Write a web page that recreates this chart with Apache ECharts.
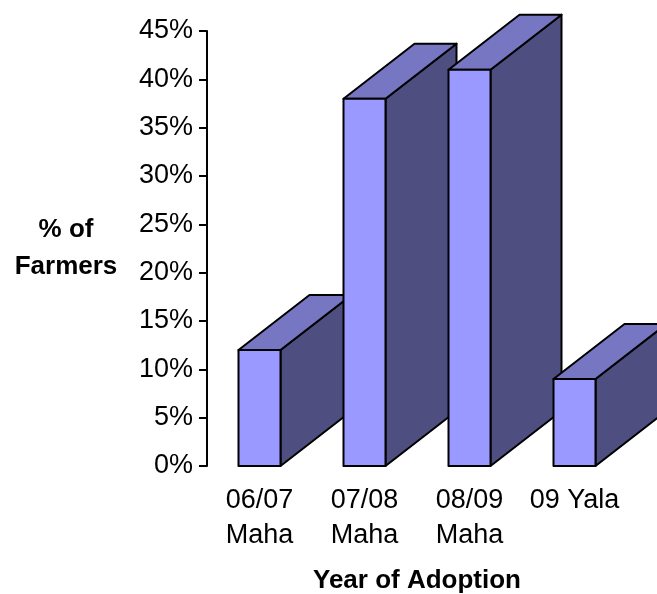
<!DOCTYPE html>
<html>
<head>
<meta charset="utf-8">
<script src="https://cdn.jsdelivr.net/npm/echarts@6/dist/echarts.min.js"></script>
<style>
  html, body { margin: 0; padding: 0; background: #fff; }
  #chart { width: 657px; height: 594px; }
</style>
</head>
<body>
<div id="chart"></div>
<script>
// data
const categories = ['06/07\nMaha', '07/08\nMaha', '08/09\nMaha', '09 Yala']
const shares = [0.12, 0.38, 0.41, 0.09]
const yTicks = [0, 0.05, 0.1, 0.15, 0.2, 0.25, 0.3, 0.35, 0.4, 0.45]

const font = 'Liberation Sans, Arial, sans-serif'
// 3d depth of each bar, in pixels
const depthX = 71
const depthY = -55

const chart = echarts.init(document.getElementById('chart'))

function renderBar (params, api) {
  const top = api.coord([api.value(0), api.value(1)])
  const base = api.coord([api.value(0), 0])
  const w = api.size([1, 0])[0] * 0.4
  const xl = top[0] - w / 2
  const xr = top[0] + w / 2
  const ty = top[1]
  const by = base[1]
  const line = { stroke: '#000', lineWidth: 2, lineJoin: 'round' }
  return {
    type: 'group',
    children: [
      {
        type: 'polygon',
        shape: { points: [[xr, ty], [xr + depthX, ty + depthY], [xr + depthX, by + depthY], [xr, by]] },
        style: Object.assign({ fill: '#4E4E80' }, line)
      },
      {
        type: 'polygon',
        shape: { points: [[xl, ty], [xl + depthX, ty + depthY], [xr + depthX, ty + depthY], [xr, ty]] },
        style: Object.assign({ fill: '#7676C2' }, line)
      },
      {
        type: 'rect',
        shape: { x: xl, y: ty, width: w, height: by - ty },
        style: Object.assign({ fill: '#9999FF' }, line)
      }
    ]
  }
}

chart.setOption({
  animation: false,
  textStyle: { fontFamily: font },
  grid: { left: 207, right: 30, top: 31, bottom: 128, outerBoundsMode: 'none' },
  xAxis: {
    type: 'category',
    data: categories,
    axisLine: { show: false },
    axisTick: { show: false },
    axisLabel: { color: '#000', fontSize: 27, lineHeight: 35, margin: 17, fontFamily: font, interval: 0 },
    name: 'Year of Adoption',
    nameLocation: 'middle',
    nameGap: 102,
    nameTextStyle: { color: '#000', fontSize: 26, fontWeight: 'bold', fontFamily: font }
  },
  yAxis: {
    type: 'value',
    min: yTicks[0],
    max: yTicks[yTicks.length - 1],
    interval: 0.05,
    splitLine: { show: false },
    axisLine: { show: true, lineStyle: { color: '#000', width: 2 } },
    axisTick: { show: true, length: 8, lineStyle: { color: '#000', width: 2 } },
    axisLabel: {
      color: '#000',
      fontSize: 27,
      margin: 14,
      fontFamily: font,
      formatter: v => Math.round(v * 100) + '%'
    },
    name: '% of\nFarmers',
    nameLocation: 'middle',
    nameRotate: 0,
    nameGap: 141,
    nameTextStyle: { color: '#000', fontSize: 26, fontWeight: 'bold', fontFamily: font, align: 'center', lineHeight: 37, padding: [8, 0, 0, 0] }
  },
  series: [{
    type: 'custom',
    renderItem: renderBar,
    data: shares.map((v, i) => [i, v]),
    clip: false
  }]
})
</script>
</body>
</html>
